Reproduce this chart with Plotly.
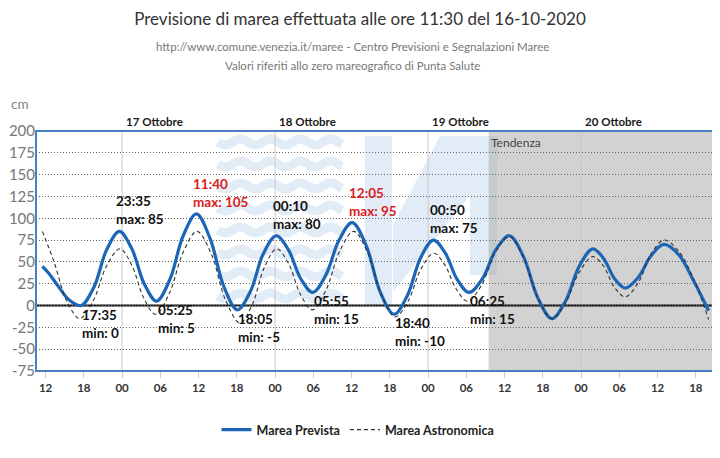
import math
import plotly.graph_objects as go

# ---------------- data ----------------
forecast_time = [
    "2020-10-16 11:30", "2020-10-16 12:30", "2020-10-16 14:00", "2020-10-16 15:45", "2020-10-16 17:35",
    "2020-10-16 19:35", "2020-10-16 21:35", "2020-10-16 23:35",
    "2020-10-17 01:32", "2020-10-17 03:28", "2020-10-17 05:25",
    "2020-10-17 07:30", "2020-10-17 09:35", "2020-10-17 11:40",
    "2020-10-17 13:48", "2020-10-17 15:57", "2020-10-17 18:05",
    "2020-10-17 20:07", "2020-10-17 22:08", "2020-10-18 00:10",
    "2020-10-18 02:05", "2020-10-18 04:00", "2020-10-18 05:55",
    "2020-10-18 07:58", "2020-10-18 10:02", "2020-10-18 12:05",
    "2020-10-18 14:17", "2020-10-18 16:28", "2020-10-18 18:40",
    "2020-10-18 20:43", "2020-10-18 22:47", "2020-10-19 00:50",
    "2020-10-19 02:42", "2020-10-19 04:33", "2020-10-19 06:25",
    "2020-10-19 08:32", "2020-10-19 10:38", "2020-10-19 12:45",
    "2020-10-19 14:58", "2020-10-19 17:12", "2020-10-19 19:25",
    "2020-10-19 21:33", "2020-10-19 23:42", "2020-10-20 01:50",
    "2020-10-20 03:32", "2020-10-20 05:13", "2020-10-20 06:55",
    "2020-10-20 08:57", "2020-10-20 10:58", "2020-10-20 13:00",
    "2020-10-20 15:20", "2020-10-20 17:40", "2020-10-20 20:00",
]
forecast_value = [
    45, 37, 22, 6, 0,
    21, 64, 85,
    65, 25, 5,
    30, 80, 105,
    77, 22, -5,
    16, 59, 80,
    64, 31, 15,
    35, 75, 95,
    69, 16, -10,
    11, 54, 75,
    60, 30, 15,
    31, 64, 80,
    56, 9, -15,
    5, 45, 65,
    54, 31, 20,
    32, 57, 70,
    58, 28, -6,
]

astro_time = [
    "2020-10-16 11:30", "2020-10-16 13:20", "2020-10-16 15:20", "2020-10-16 17:20",
    "2020-10-16 19:27", "2020-10-16 21:33", "2020-10-16 23:40",
    "2020-10-17 01:32", "2020-10-17 03:23", "2020-10-17 05:15",
    "2020-10-17 07:25", "2020-10-17 09:35", "2020-10-17 11:45",
    "2020-10-17 14:00", "2020-10-17 16:15", "2020-10-17 18:30",
    "2020-10-17 20:25", "2020-10-17 22:20", "2020-10-18 00:15",
    "2020-10-18 02:07", "2020-10-18 03:58", "2020-10-18 05:50",
    "2020-10-18 08:00", "2020-10-18 10:10", "2020-10-18 12:20",
    "2020-10-18 14:30", "2020-10-18 16:40", "2020-10-18 18:50",
    "2020-10-18 20:52", "2020-10-18 22:53", "2020-10-19 00:55",
    "2020-10-19 02:40", "2020-10-19 04:25", "2020-10-19 06:10",
    "2020-10-19 08:22", "2020-10-19 10:33", "2020-10-19 12:45",
    "2020-10-19 14:58", "2020-10-19 17:12", "2020-10-19 19:25",
    "2020-10-19 21:33", "2020-10-19 23:42", "2020-10-20 01:50",
    "2020-10-20 03:32", "2020-10-20 05:13", "2020-10-20 06:55",
    "2020-10-20 08:57", "2020-10-20 10:58", "2020-10-20 13:00",
    "2020-10-20 15:20", "2020-10-20 17:40", "2020-10-20 20:00",
]
astro_value = [
    85, 50, 5, -15,
    5, 45, 65,
    46, 9, -10,
    14, 61, 85,
    59, 6, -20,
    1, 44, 65,
    48, 13, -5,
    18, 63, 85,
    61, 12, -13,
    5, 42, 60,
    46, 19, 5,
    23, 61, 79,
    55, 9, -15,
    3, 38, 56,
    45, 21, 10,
    26, 59, 75,
    62, 30, -16,
]

# labelled extremes of the forecast
ext_time = ["2020-10-16 17:35", "2020-10-16 23:35", "2020-10-17 05:25", "2020-10-17 11:40",
            "2020-10-17 18:05", "2020-10-18 00:10", "2020-10-18 05:55", "2020-10-18 12:05",
            "2020-10-18 18:40", "2020-10-19 00:50", "2020-10-19 06:25"]
ext_label = ["17:35", "23:35", "05:25", "11:40", "18:05", "00:10", "05:55", "12:05",
             "18:40", "00:50", "06:25"]
ext_kind = ["min", "max", "min", "max", "min", "max", "min", "max", "min", "max", "min"]
ext_value = [0, 85, 5, 105, -5, 80, 15, 95, -10, 75, 15]
ext_alert = [False, False, False, True, False, False, False, True, False, False, False]

tick_time = ["2020-10-16 12:00", "2020-10-16 18:00", "2020-10-17 00:00", "2020-10-17 06:00",
             "2020-10-17 12:00", "2020-10-17 18:00", "2020-10-18 00:00", "2020-10-18 06:00",
             "2020-10-18 12:00", "2020-10-18 18:00", "2020-10-19 00:00", "2020-10-19 06:00",
             "2020-10-19 12:00", "2020-10-19 18:00", "2020-10-20 00:00", "2020-10-20 06:00",
             "2020-10-20 12:00", "2020-10-20 18:00"]
tick_text = ["12", "18", "00", "06", "12", "18", "00", "06", "12", "18",
             "00", "06", "12", "18", "00", "06", "12", "18"]

day_time = ["2020-10-17 00:00", "2020-10-18 00:00", "2020-10-19 00:00", "2020-10-20 00:00"]
day_label = ["17 Ottobre", "18 Ottobre", "19 Ottobre", "20 Ottobre"]

y_ticks = [200, 175, 150, 125, 100, 75, 50, 25, 0, -25, -50, -75]

x_range = ["2020-10-16 10:30", "2020-10-20 21:00"]
y_range = [-75, 200]
trend_start = "2020-10-19 09:30"

# ---------------- style / geometry ----------------
FONT = "Lato, Roboto, Liberation Sans, sans-serif"
OFF = 8                      # default page margin of the html body
W, H = 720 - OFF, 458 - OFF  # figure size
PL, PT, PR, PB = 36, 131, 715, 371   # wanted plot box in page pixels
ML, MT = PL - OFF, PT - OFF
MR, MB = W - (PR - OFF), H - (PB - OFF)
PW, PH = PR - PL, PB - PT
BLUE = "#1b66b6"
RED = "#d9201c"


def pp(x, y):
    """page pixel -> paper coordinates (decoration / text placement)"""
    return (x - PL) / PW, (PB - y) / PH


fig = go.Figure()

fig.add_trace(go.Scatter(
    x=forecast_time, y=forecast_value, name="Marea Prevista", mode="lines",
    line=dict(color=BLUE, width=3.2, shape="spline", smoothing=1.0),
))
fig.add_trace(go.Scatter(
    x=astro_time, y=astro_value, name="Marea Astronomica", mode="lines",
    line=dict(color="#333333", width=1.1, dash="4px,3px", shape="spline", smoothing=1.0),
))

shapes = []
# background watermark (decoration)
WM = "#e2ecf7"
for k in range(8):
    yb = 142 + 22 * k
    pts = []
    for i in range(0, 63):
        xx = 218 + 2 * i
        yy = yb + 3 * math.sin(2 * math.pi * (xx - 218) / 30.0)
        px, py = pp(xx, yy)
        pts.append(f"{px:.5f},{py:.5f}")
    shapes.append(dict(type="path", xref="paper", yref="paper", layer="below",
                       path="M " + " L ".join(pts), line=dict(color=WM, width=9)))
x0, y0 = pp(365, 305); x1, y1 = pp(392, 136)
shapes.append(dict(type="rect", xref="paper", yref="paper", layer="below",
                   x0=x0, y0=y0, x1=x1, y1=y1, fillcolor=WM, line=dict(width=0)))
poly = [pp(440, 136), pp(498, 136), pp(498, 160), pp(393, 292), pp(393, 225)]
shapes.append(dict(type="path", xref="paper", yref="paper", layer="below",
                   path="M " + " L ".join(f"{a:.5f},{b:.5f}" for a, b in poly) + " Z",
                   fillcolor=WM, line=dict(width=0)))
x0, y0 = pp(470, 275); x1, y1 = pp(497, 150)
shapes.append(dict(type="rect", xref="paper", yref="paper", layer="below",
                   x0=x0, y0=y0, x1=x1, y1=y1, fillcolor=WM, line=dict(width=0)))

# trend region
shapes.append(dict(type="rect", xref="x", yref="paper", layer="below",
                   x0=trend_start, x1=x_range[1], y0=0, y1=1,
                   fillcolor="rgba(165,165,165,0.5)", line=dict(width=0)))
# day separators
for d in day_time:
    shapes.append(dict(type="line", xref="x", yref="paper", layer="below",
                       x0=d, x1=d, y0=0, y1=1, line=dict(color="#c8c8c8", width=1)))
# zero line
shapes.append(dict(type="line", xref="paper", yref="y", layer="between",
                   x0=0, x1=1, y0=0, y1=0, line=dict(color="#111111", width=2)))
# plot border
shapes.append(dict(type="rect", xref="paper", yref="paper", layer="above",
                   x0=0, x1=1, y0=0, y1=1, line=dict(color="#4a80c2", width=2)))

annotations = []
for d, lab in zip(day_time, day_label):
    annotations.append(dict(x=d, y=1, xref="x", yref="paper", xanchor="left", yanchor="bottom",
                            xshift=2, yshift=1, showarrow=False, text=f"<b>{lab}</b>",
                            font=dict(family=FONT, size=11.5, color="#1a1a1a")))
for t, lab, kind, v, alert in zip(ext_time, ext_label, ext_kind, ext_value, ext_alert):
    col = RED if alert else "#111111"
    if kind == "max":
        annotations.append(dict(x=t, y=v, xref="x", yref="y", xanchor="left", yanchor="bottom",
                                xshift=-5, yshift=2, showarrow=False, align="left",
                                text=f"<b>{lab}<br>max: {v}</b>",
                                font=dict(family=FONT, size=13.5, color=col)))
    else:
        annotations.append(dict(x=t, y=v, xref="x", yref="y", xanchor="left", yanchor="top",
                                xshift=-1, yshift=1, showarrow=False, align="left",
                                text=f"<b>{lab}<br>min: {v}</b>",
                                font=dict(family=FONT, size=13.5, color=col)))
annotations.append(dict(x=trend_start, y=1, xref="x", yref="paper", xanchor="left", yanchor="top",
                        xshift=0, yshift=-2, showarrow=False, text="Tendenza",
                        font=dict(family=FONT, size=12, color="#444444")))
sx, sy = pp(352, 47)
annotations.append(dict(x=sx, y=sy, xref="paper", yref="paper", xanchor="center", yanchor="middle",
                        showarrow=False,
                        text="http://www.comune.venezia.it/maree - Centro Previsioni e Segnalazioni Maree",
                        font=dict(family=FONT, size=11.5, color="#777777")))
sx, sy = pp(352, 65)
annotations.append(dict(x=sx, y=sy, xref="paper", yref="paper", xanchor="center", yanchor="middle",
                        showarrow=False, text="Valori riferiti allo zero mareografico di Punta Salute",
                        font=dict(family=FONT, size=11.5, color="#777777")))
sx, sy = pp(9, 104)
annotations.append(dict(x=sx, y=sy, xref="paper", yref="paper", xanchor="left", yanchor="middle",
                        showarrow=False, text="cm",
                        font=dict(family=FONT, size=13.5, color="#888888")))

lx, ly = pp(358, 430)
fig.update_layout(
    template="none",
    width=W, height=H,
    margin=dict(l=ML, r=MR, t=MT, b=MB, autoexpand=False),
    paper_bgcolor="white", plot_bgcolor="white",
    title=dict(text="Previsione di marea effettuata alle ore 11:30 del 16-10-2020",
               x=(360 - OFF) / W, xanchor="center", y=1 - (19 - OFF) / H, yanchor="middle",
               xref="container", yref="container",
               font=dict(family=FONT, size=17, color="#333333")),
    xaxis=dict(type="date", range=x_range, tickvals=tick_time, ticktext=tick_text,
               showgrid=False, zeroline=False, showline=False, automargin=False,
               ticks="outside", ticklen=6, tickcolor="#cccccc", tickwidth=1,
               tickfont=dict(family=FONT, size=11.5, color="#333333", weight="bold"),
               fixedrange=True),
    yaxis=dict(range=y_range, tickvals=y_ticks, ticktext=[str(v) for v in y_ticks],
               showgrid=True, gridcolor="#666666", griddash="1px,2px", gridwidth=1,
               zeroline=False, showline=False, ticks="", automargin=False,
               tickfont=dict(family=FONT, size=15, color="#777777"),
               fixedrange=True),
    showlegend=True,
    legend=dict(orientation="h", x=lx, xanchor="center", y=ly,
                yanchor="middle", font=dict(family=FONT, size=12.5, color="#222222", weight="bold"),
                itemwidth=30, bgcolor="rgba(0,0,0,0)", borderwidth=0),
    shapes=shapes,
    annotations=annotations,
)

fig.write_html("out.html")
